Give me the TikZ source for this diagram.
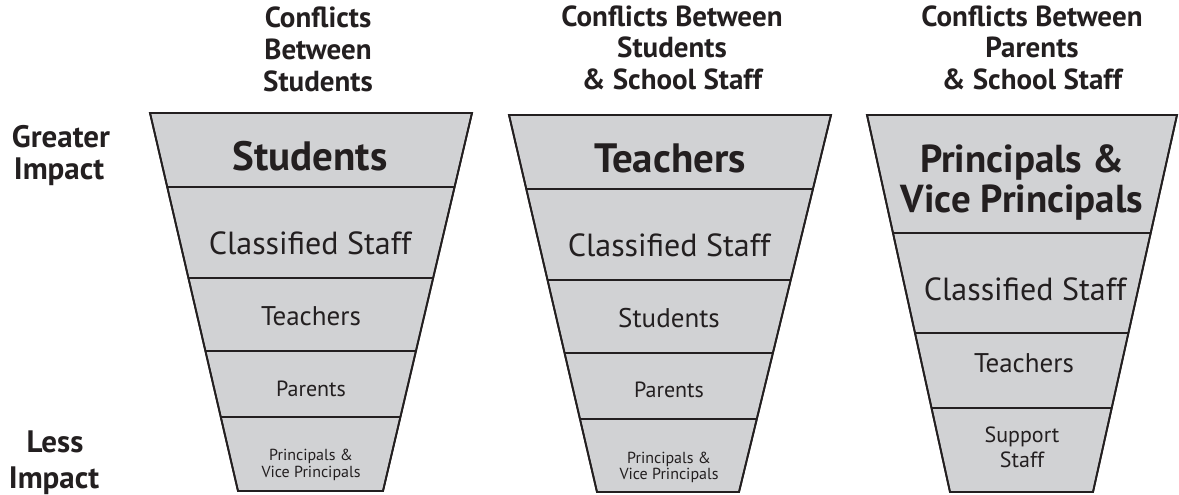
\documentclass[tikz,border=0pt]{standalone}
\usepackage{fontspec}
\setmainfont{PT Sans}
\begin{document}
\begin{tikzpicture}[x=1pt,y=-1pt,
  funnel/.style={fill=funnelgray,draw=linedark,line width=1.8pt,line join=miter},
  outline/.style={draw=linedark,line width=1.8pt,line join=miter},
  divider/.style={draw=linedark,line width=1.8pt},
  lbl/.style={anchor=base,inner sep=0pt,text=textdark},
  sidelbl/.style={lbl,font=\bfseries\fontsize{31}{33}\selectfont},
  head/.style={lbl,font=\bfseries\fontsize{29}{31}\selectfont},
  big/.style={lbl,font=\bfseries\fontsize{41}{42}\selectfont},
  bigtwo/.style={lbl,font=\bfseries\fontsize{39}{40}\selectfont},
  mid/.style={lbl,font=\fontsize{32}{34}\selectfont},
  small/.style={lbl,font=\fontsize{27}{29}\selectfont},
  smaller/.style={lbl,font=\fontsize{22}{24}\selectfont},
  tiny/.style={lbl,font=\fontsize{16}{18}\selectfont},
  suplbl/.style={lbl,font=\fontsize{22}{23}\selectfont}]
\definecolor{funnelgray}{HTML}{D1D2D4}
\definecolor{linedark}{HTML}{231F20}
\definecolor{textdark}{HTML}{231F20}
\useasboundingbox (0,0) rectangle (1179,495);

% side labels
\node[sidelbl] (g1) at (61,147) {Greater};
\node[sidelbl] (g2) at (59,179) {Impact};
\node[sidelbl] (l1) at (55,452) {Less};
\node[sidelbl] (l2) at (54,488) {Impact};

% ---------- funnel 1 ----------
\path[funnel] (150,113) -- (472,113) -- (383,491) -- (238,491) -- cycle;
\begin{scope}
\clip (150,113) -- (472,113) -- (383,491) -- (238,491) -- cycle;
\foreach \yy in {187,278,351,417} \draw[divider] (100,\yy) -- (520,\yy);
\end{scope}
\draw[outline] (150,113) -- (472,113) -- (383,491) -- (238,491) -- cycle;
\node[head] (h1a) at (318,28) {Conflicts};
\node[head] (h1b) at (318,60) {Between};
\node[head] (h1c) at (318,92) {Students};
\node[big] (a1) at (310,170) {Students};
\node[mid] (a2) at (310,254) {Classified Staff};
\node[small] (a3) at (311,325) {Teachers};
\node[smaller] (a4) at (311,396) {Parents};
\node[tiny] (a5) at (311,460) {Principals \&};
\node[tiny] (a6) at (311,477) {Vice Principals};

% ---------- funnel 2 ----------
\path[funnel] (509,115) -- (831,115) -- (739,492) -- (597,492) -- cycle;
\begin{scope}
\clip (509,115) -- (831,115) -- (739,492) -- (597,492) -- cycle;
\foreach \yy in {189,280,353,419} \draw[divider] (460,\yy) -- (880,\yy);
\end{scope}
\draw[outline] (509,115) -- (831,115) -- (739,492) -- (597,492) -- cycle;
\node[head] (h2a) at (672,27) {Conflicts Between};
\node[head] (h2b) at (672,58) {Students};
\node[head] (h2c) at (672,90) {\& School Staff};
\node[big] (b1) at (670,172) {Teachers};
\node[mid] (b2) at (669,256) {Classified Staff};
\node[small] (b3) at (669,327) {Students};
\node[smaller] (b4) at (669,397) {Parents};
\node[tiny] (b5) at (669,463) {Principals \&};
\node[tiny] (b6) at (669,479) {Vice Principals};

% ---------- funnel 3 ----------
\path[funnel] (867,115) -- (1177,115) -- (1093,492) -- (950,492) -- cycle;
\begin{scope}
\clip (867,115) -- (1177,115) -- (1093,492) -- (950,492) -- cycle;
\foreach \yy in {233,333,408} \draw[divider] (820,\yy) -- (1179,\yy);
\end{scope}
\draw[outline] (867,115) -- (1177,115) -- (1093,492) -- (950,492) -- cycle;
\node[head] (h3a) at (1032,27) {Conflicts Between};
\node[head] (h3b) at (1032,58) {Parents};
\node[head] (h3c) at (1032,90) {\& School Staff};
\node[bigtwo] (c1) at (1022,172) {Principals \&};
\node[bigtwo] (c2) at (1022,212) {Vice Principals};
\node[mid] (c3) at (1025,300) {Classified Staff};
\node[small] (c4) at (1024,372) {Teachers};
\node[suplbl] (c5) at (1022,442) {Support};
\node[suplbl] (c6) at (1022,467) {Staff};
\end{tikzpicture}
\end{document}
